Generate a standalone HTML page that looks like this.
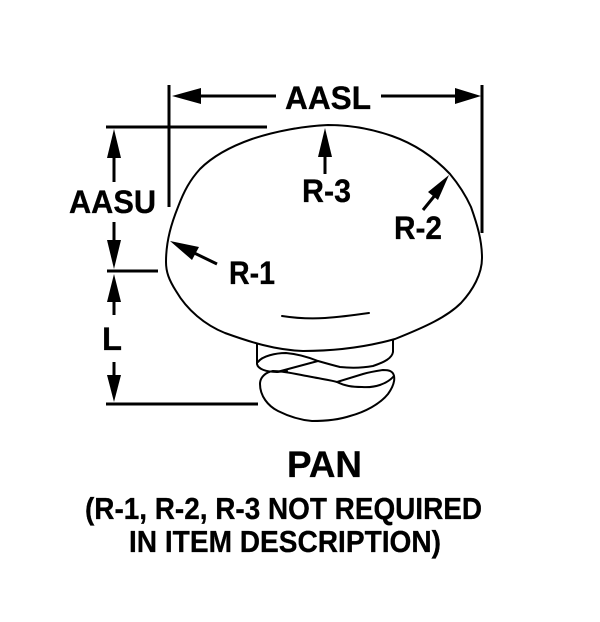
<!DOCTYPE html>
<html>
<head>
<meta charset="utf-8">
<style>
html,body{margin:0;padding:0;background:#fff;width:600px;height:622px;overflow:hidden}
svg{display:block}
text{font-family:"Liberation Sans",sans-serif;font-weight:bold;fill:#000;stroke:#000;stroke-width:.3}
</style>
</head>
<body>
<svg width="600" height="622" viewBox="0 0 600 622" xmlns="http://www.w3.org/2000/svg">
<g fill="none" stroke="#000" stroke-width="2" stroke-linejoin="round" stroke-linecap="round">
<path d="M166 262C166 240 172 222 178 207C184 191 190 180 200 169C214 155 232 146 252 139C276 131 304 126 328 125C352 125 372 129 392 136C412 143 432 155 450 174C460 186 466 196 471 207C477 224 482 240 482 258C482 274 473 290 461 303C447 317 425 327 395 339C370 346 340 351 303 351C275 350 250 342 225 333C205 325 187 310 176 291C169 280 166 272 166 262Z"/>
<path d="M282 316C295 318 310 319 325 318C340 317 355 315 369 313"/>
<path d="M257 344L257 364C258 369 266 372 277 372L287 371M393 340L393 352C392 358 385 362 373 366C362 368 350 368 340 367C332 365 325 363 318 361C308 357 298 354 286 353C276 353 262 356 258 362"/>
<path d="M277 372L318 361"/>
<path d="M273 371C266 372 260 377 260 384C260 396 268 406 278 411C288 416 300 420 312 421C325 421 338 420 350 416C365 412 380 404 388 394C393 387 395 381 394 376C393 371 389 370 383 370C376 371 370 372 363 374L337 382"/>
<path d="M273 371C285 371 300 375 312 377C322 379 330 380 337 382C345 386 352 387 362 387C375 388 387 384 394 376"/>
</g>
<g fill="none" stroke="#000" stroke-width="3">
<path d="M169 85V207M482 85V233M106 127H267M107 271H158M106 404H258"/>
<path d="M200 96H276M381 96H455M114 158V182M114 222V242M114 302V315M114 362V376M325 157V174"/>
<path d="M436 194L423 210M186 249L217 264"/>
</g>
<g fill="#000" stroke="none">
<path d="M172 96L201 88V104Z"/>
<path d="M481 96L455 88V104Z"/>
<path d="M114 129L107 158H121Z"/>
<path d="M114 269L107 240H121Z"/>
<path d="M114 274L107 302H121Z"/>
<path d="M114 402L107 375H121Z"/>
<path d="M325 128L318 157H332Z"/>
<path d="M449 175L428 192L438 200Z"/>
<path d="M170 241L199 247L192 260Z"/>
</g>
<text x="285" y="109" font-size="32" textLength="86" lengthAdjust="spacingAndGlyphs">AASL</text>
<text x="69" y="213" font-size="32" textLength="87" lengthAdjust="spacingAndGlyphs">AASU</text>
<text x="229" y="284" font-size="32" textLength="46" lengthAdjust="spacingAndGlyphs">R-1</text>
<text x="302" y="202" font-size="32" textLength="49" lengthAdjust="spacingAndGlyphs">R-3</text>
<text x="394" y="239" font-size="32" textLength="48" lengthAdjust="spacingAndGlyphs">R-2</text>
<text x="102" y="350" font-size="32" textLength="20" lengthAdjust="spacingAndGlyphs">L</text>
<text x="287" y="477" font-size="37" textLength="75" lengthAdjust="spacingAndGlyphs">PAN</text>
<text x="85" y="519" font-size="31" textLength="397" lengthAdjust="spacingAndGlyphs">(R-1, R-2, R-3 NOT REQUIRED</text>
<text x="129" y="552" font-size="31" textLength="312" lengthAdjust="spacingAndGlyphs">IN ITEM DESCRIPTION)</text>
</svg>
</body>
</html>
